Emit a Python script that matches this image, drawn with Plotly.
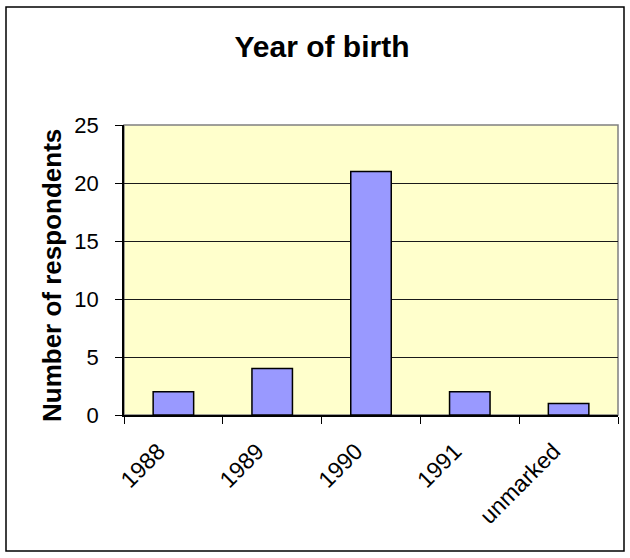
import plotly.graph_objects as go

# Survey: year of birth of respondents
categories = ["1988", "1989", "1990", "1991", "unmarked"]
counts = [2, 4, 21, 2, 1]
y_ticks = [0, 5, 10, 15, 20, 25]

W, H = 630, 558
ML, MR, MT, MB = 124, 12, 125, 143
FONT = "Liberation Sans, Arial, sans-serif"

fig = go.Figure(
    go.Bar(
        x=categories,
        y=counts,
        width=0.41,
        marker=dict(color="#9999FF", line=dict(color="#000000", width=1.5)),
        hoverinfo="x+y",
    )
)

pw = W - ML - MR
ph = H - MT - MB


def px_x(p):
    return (p - ML) / pw


def px_y(p):
    return (H - MB - p) / ph


fig.update_layout(
    width=W,
    height=H,
    margin=dict(l=ML, r=MR, t=MT, b=MB),
    paper_bgcolor="#FFFFFF",
    plot_bgcolor="#FFFFCC",
    font=dict(family=FONT, color="#000000", size=22),
    showlegend=False,
    title=dict(
        text="<b>Year of birth</b>",
        font=dict(family=FONT, size=30, color="#000000"),
        x=322 / W,
        xanchor="center",
        y=1 - 46 / H,
        yanchor="middle",
        yref="container",
    ),
    xaxis=dict(
        type="category",
        tickson="boundaries",
        ticks="outside",
        ticklen=7,
        tickwidth=1,
        tickcolor="#000000",
        tickangle=-45,
        ticklabelstandoff=12,
        ticklabelshift=-15,
        tickfont=dict(family=FONT, size=23),
        showline=True,
        linecolor="#000000",
        linewidth=1.5,
        showgrid=False,
        zeroline=False,
    ),
    yaxis=dict(
        range=[0, 25],
        tickvals=y_ticks,
        ticks="outside",
        ticklen=7,
        tickwidth=1,
        tickcolor="#000000",
        ticklabelstandoff=12,
        tickfont=dict(family=FONT, size=22),
        showline=True,
        linecolor="#000000",
        linewidth=1.5,
        showgrid=True,
        gridcolor="#1a1a1a",
        gridwidth=1,
        zeroline=False,
    ),
    annotations=[
        dict(
            text="<b>Number of respondents</b>",
            textangle=-90,
            font=dict(family=FONT, size=26, color="#000000"),
            xref="paper", yref="paper",
            x=px_x(52), y=px_y(276),
            xanchor="center", yanchor="middle",
            showarrow=False,
        )
    ],
    shapes=[
        # plot area border
        dict(type="rect", xref="paper", yref="paper", x0=0, y0=0, x1=1, y1=1,
             line=dict(color="#808080", width=1.5), layer="below"),
        # chart area frame
        dict(type="rect", xref="paper", yref="paper",
             x0=px_x(6), x1=px_x(624), y0=px_y(551), y1=px_y(7),
             line=dict(color="#000000", width=1.5), fillcolor="rgba(0,0,0,0)"),
    ],
)

fig.write_html("out.html")
